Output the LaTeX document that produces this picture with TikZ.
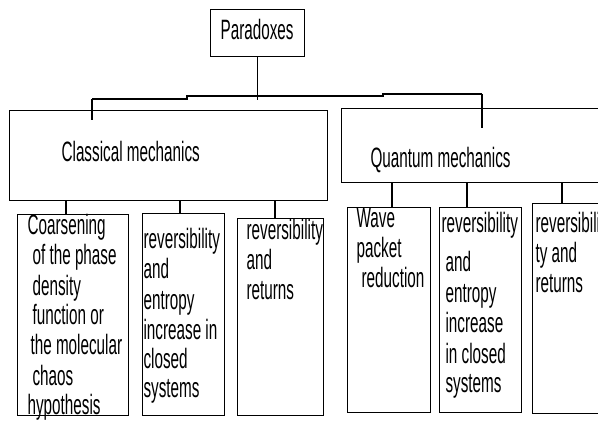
\documentclass[tikz,border=0pt]{standalone}
\usepackage{fontspec}
\setmainfont[FakeStretch=0.545]{Liberation Sans}
\begin{document}
\begin{tikzpicture}[x=1pt,y=-1pt,line width=1.2pt,
  box/.style={draw, rectangle, inner sep=0pt, anchor=north west},
  lbl/.style={inner sep=0pt, anchor=base west, font=\fontsize{28}{30}\selectfont}]
\useasboundingbox (0,0) rectangle (598,425);
\fill[white] (0,0) rectangle (598,425);
\clip (0,0) rectangle (598,425);

% boxes
\node[box, minimum width=94pt, minimum height=47pt]  (par) at (210,9) {};
\node[box, minimum width=318pt, minimum height=90pt] (cm)  at (9,110) {};
\node[box, minimum width=300pt, minimum height=74pt] (qm)  at (341,108) {};
\node[box, minimum width=111pt, minimum height=201pt] (c1) at (17,214) {};
\node[box, minimum width=82pt,  minimum height=202pt] (c2) at (142,213) {};
\node[box, minimum width=86pt,  minimum height=197pt] (c3) at (237,218) {};
\node[box, minimum width=83pt,  minimum height=205pt] (q1) at (347,207) {};
\node[box, minimum width=82pt,  minimum height=205pt] (q2) at (439,207) {};
\node[box, minimum width=120pt, minimum height=210pt] (q3) at (532,203) {};

% titles
\node[lbl] (tpar) at (220,40)  {Paradoxes};
\node[lbl] (tcm)  at (61,162)  {Classical mechanics};
\node[lbl] (tqm)  at (370,168) {Quantum mechanics};

% box texts, one line each
\foreach \x/\y/\t [count=\i] in {27/235/Coarsening, 32/265/of the phase,
    32/295/density, 32/325/function or, 30/355/the molecular,
    32/385/chaos, 27/414/hypothesis}
  \node[lbl, name=c1t\i] at (\x,\y) {\t};
\foreach \x/\y/\t [count=\i] in {143/249/reversibility, 143/279/and,
    143/309/entropy, 143/339/increase in, 143/368/closed, 143/397/systems}
  \node[lbl, name=c2t\i] at (\x,\y) {\t};
\foreach \x/\y/\t [count=\i] in {246/240/reversibility, 246/270/and,
    246/300/returns}
  \node[lbl, name=c3t\i] at (\x,\y) {\t};
\foreach \x/\y/\t [count=\i] in {356/228/Wave, 356/258/packet,
    361/288/reduction}
  \node[lbl, name=q1t\i] at (\x,\y) {\t};
\foreach \x/\y/\t [count=\i] in {441/233/reversibility, 445/272/and,
    445/302/entropy, 445/332/increase, 445/363/in closed, 445/392/systems}
  \node[lbl, name=q2t\i] at (\x,\y) {\t};
\foreach \x/\y/\t [count=\i] in {535/233/reversibili, 535/263/ty and,
    535/293/returns}
  \node[lbl, name=q3t\i] at (\x,\y) {\t};

% bus from the top box to the two branches
\coordinate (jL) at (92,99);
\coordinate (j1) at (187,99);
\coordinate (j2) at (187,96);
\coordinate (j3) at (383,96);
\coordinate (j4) at (383,94);
\coordinate (jR) at (482,94);
\draw (jL) -- (j1) -- (j2) -- (j3) -- (j4) -- (jR);
\draw (par.south) -- ([yshift=-4pt]par.south |- j2);
\draw (jL) -- ([yshift=-10pt]jL |- cm.north);
\draw (jR) -- ([yshift=-20pt]jR |- qm.north);

% drops to the leaf boxes
\coordinate (k1) at (66,0);
\coordinate (k2) at (180,0);
\coordinate (k3) at (275,0);
\coordinate (k4) at (392,0);
\coordinate (k5) at (467,0);
\coordinate (k6) at (562,0);
\draw (cm.south -| k1) -- (c1.north -| k1);
\draw (cm.south -| k2) -- (c2.north -| k2);
\draw (cm.south -| k3) -- (c3.north -| k3);
\draw (qm.south -| k4) -- (q1.north -| k4);
\draw (qm.south -| k5) -- (q2.north -| k5);
\draw (qm.south -| k6) -- (q3.north -| k6);
\end{tikzpicture}
\end{document}
